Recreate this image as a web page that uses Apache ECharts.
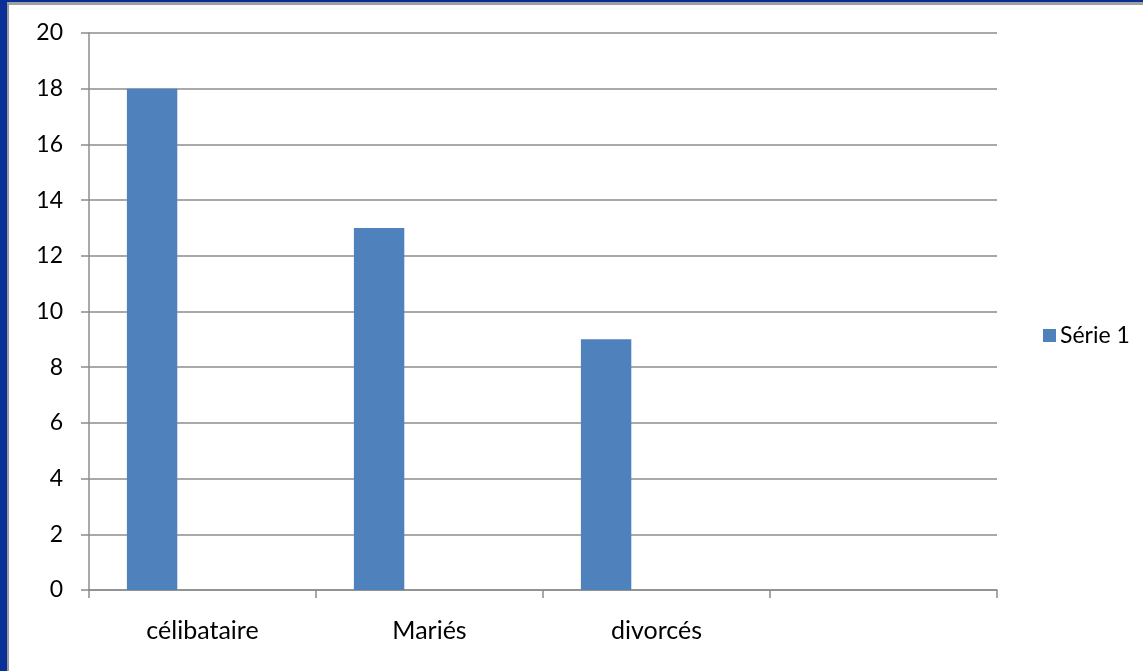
<!DOCTYPE html>
<html>
<head>
<meta charset="utf-8">
<script src="https://cdn.jsdelivr.net/npm/echarts@6/dist/echarts.min.js"></script>
<style>
  html, body { margin: 0; padding: 0; background: #ffffff; }
  #wrap { position: relative; width: 1143px; height: 671px; overflow: hidden; background: #fff; }
  #bl { position: absolute; left: 0; top: 0; width: 7px; height: 671px; background: #0a2f96; }
  #bl2 { position: absolute; left: 7px; top: 3px; width: 2px; height: 668px; background: #9a9a9a; }
  #bt { position: absolute; left: 0; top: 0; width: 1143px; height: 2px; background: #0a2f96; }
  #bt2 { position: absolute; left: 7px; top: 2px; width: 1136px; height: 3px; background: #a0a0a0; }
  #chart { position: absolute; left: 0; top: 0; width: 1143px; height: 671px; }
</style>
</head>
<body>
<div id="wrap">
  <div id="chart"></div>
  <div id="bt"></div><div id="bt2"></div>
  <div id="bl"></div><div id="bl2"></div>
</div>
<script>
const categories = ["célibataire", "Mariés", "divorcés", ""];
const serie1 = [18, 13, 9, null];
const serie2 = [null, null, null, null];
const serie3 = [null, null, null, null];
const seriesName = "Série 1";
const yMin = 0, yMax = 20, yInterval = 2;

const chart = echarts.init(document.getElementById('chart'), null, { renderer: 'canvas' });
const font = 'Lato, "Open Sans", sans-serif';
const axisGray = '#8c8c8c';
chart.setOption({
  animation: false,
  backgroundColor: 'transparent',
  textStyle: { fontFamily: font },
  grid: { left: 89, top: 33, right: 146, bottom: 81, containLabel: false },
  legend: {
    data: [seriesName],
    orient: 'vertical',
    left: 1038, top: 'middle',
    itemWidth: 13, itemHeight: 13, itemGap: 8,
    icon: 'rect',
    textStyle: { fontSize: 23, color: '#000', fontFamily: font, padding: [0,0,0,-1] }
  },
  xAxis: {
    type: 'category',
    data: categories,
    axisLine: { lineStyle: { color: axisGray, width: 1.5 } },
    axisTick: { show: true, length: 8, alignWithLabel: false, lineStyle: { color: axisGray, width: 1.5 } },
    axisLabel: { fontSize: 25, color: '#000', margin: 28, fontFamily: font }
  },
  yAxis: {
    type: 'value',
    min: yMin, max: yMax, interval: yInterval,
    axisLine: { show: true, lineStyle: { color: axisGray, width: 1.5 } },
    axisTick: { show: true, length: 8, lineStyle: { color: axisGray, width: 1.5 } },
    axisLabel: { fontSize: 23, color: '#000', margin: 26, fontFamily: font },
    splitLine: { show: true, lineStyle: { color: axisGray, width: 1.5 } }
  },
  series: [
    { name: seriesName, type: 'bar', data: serie1, barWidth: 50.4, barGap: '0%',
      itemStyle: { color: '#4f81bd' } },
    { name: 'Série 2', type: 'bar', data: serie2, barWidth: 50.4, barGap: '0%',
      itemStyle: { color: '#c0504d' } },
    { name: 'Série 3', type: 'bar', data: serie3, barWidth: 50.4, barGap: '0%',
      itemStyle: { color: '#9bbb59' } }
  ]
});
</script>
</body>
</html>
